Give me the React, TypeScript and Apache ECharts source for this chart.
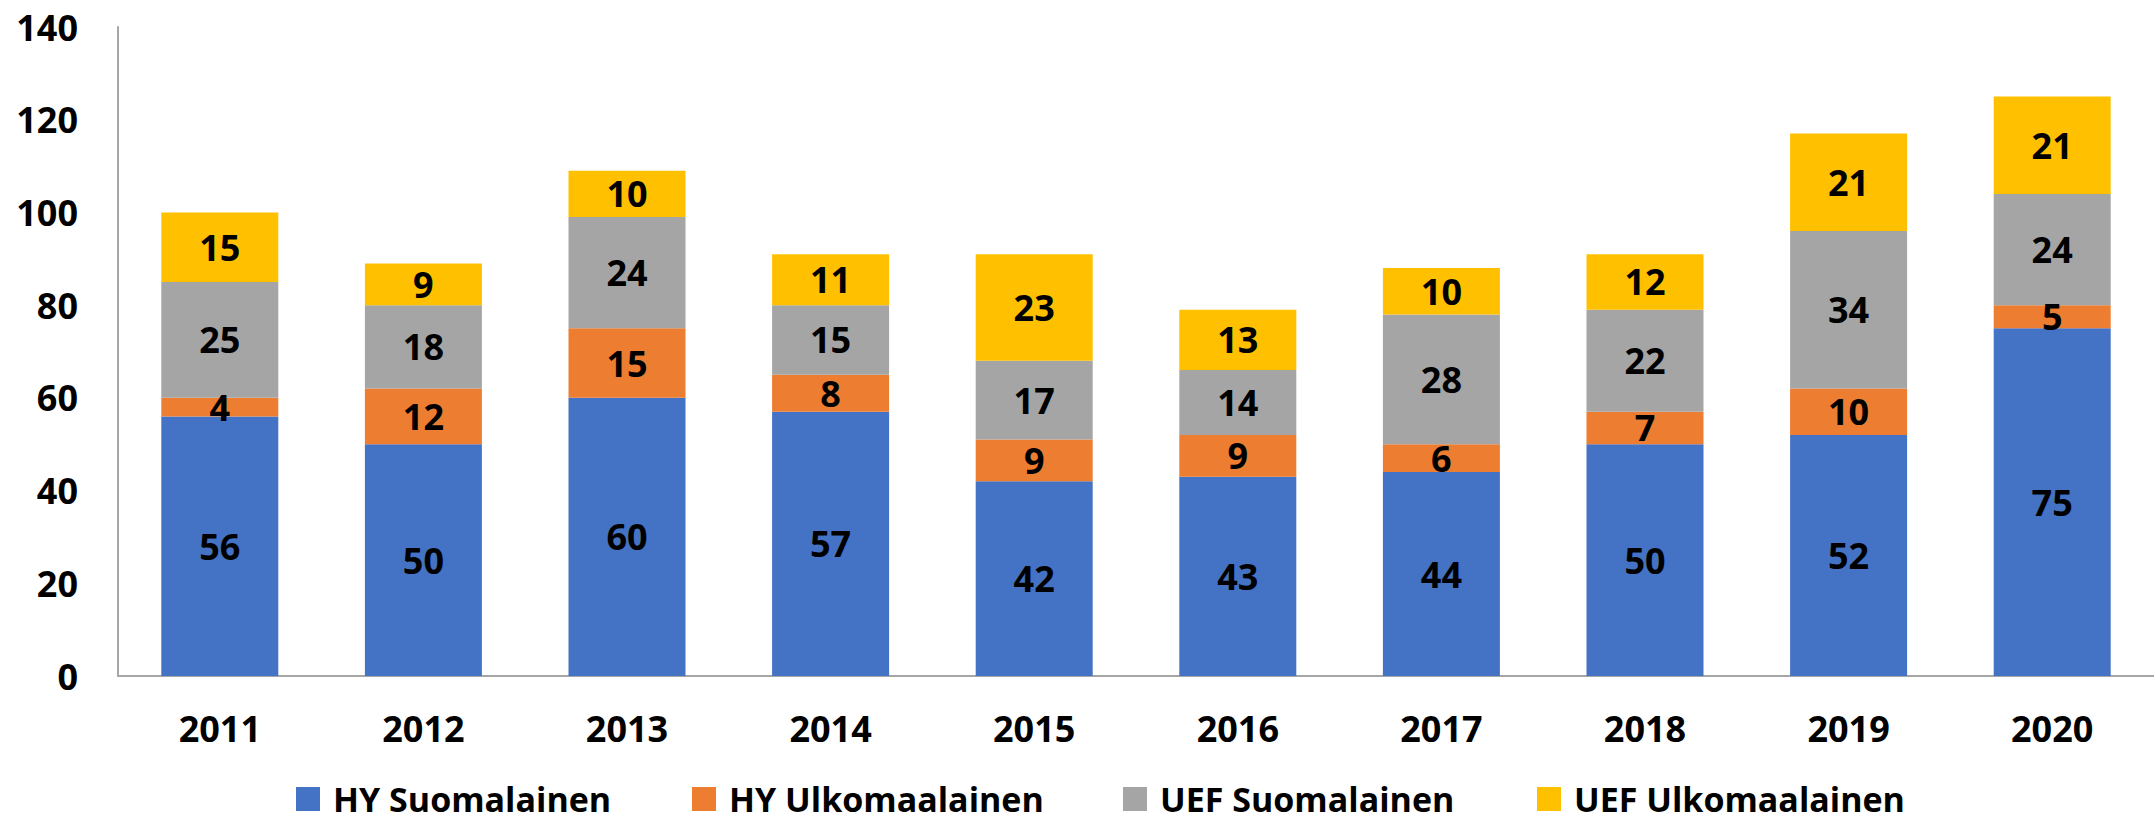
import React, { useEffect, useRef } from "react";
import * as echarts from "echarts";

const years = ["2011", "2012", "2013", "2014", "2015", "2016", "2017", "2018", "2019", "2020"];
const hySuomalainen = [56, 50, 60, 57, 42, 43, 44, 50, 52, 75];
const hyUlkomaalainen = [4, 12, 15, 8, 9, 9, 6, 7, 10, 5];
const uefSuomalainen = [25, 18, 24, 15, 17, 14, 28, 22, 34, 24];
const uefUlkomaalainen = [15, 9, 10, 11, 23, 13, 10, 12, 21, 21];
const seriesNames = ["HY Suomalainen", "HY Ulkomaalainen", "UEF Suomalainen", "UEF Ulkomaalainen"];
const seriesColors = ["#4472C4", "#ED7D31", "#A5A5A5", "#FFC000"];
const yTicks = [0, 20, 40, 60, 80, 100, 120, 140];

const FONT = "'Open Sans', 'Noto Sans', sans-serif";

export default function App() {
  const ref = useRef<HTMLDivElement>(null);
  useEffect(() => {
    if (!ref.current) return;
    const chart = echarts.init(ref.current, null, { renderer: "svg" });
    const values = [hySuomalainen, hyUlkomaalainen, uefSuomalainen, uefUlkomaalainen];
    const legendLefts = [296, 692, 1123, 1537];
    chart.setOption({
      animation: false,
      backgroundColor: "#ffffff",
      grid: { left: 118, right: -21, top: 27, bottom: 145, containLabel: false },
      legend: seriesNames.map((n, i) => ({
        data: [n],
        left: legendLefts[i],
        top: 779,
        width: 420,
        padding: 0,
        itemWidth: 24,
        itemHeight: 24,
        itemGap: 10,
        icon: "rect",
        textStyle: {
          fontFamily: FONT,
          fontWeight: "bold",
          fontSize: 34,
          lineHeight: 40,
          color: "#000",
          padding: [0, 0, 0, 8],
        },
      })),
      xAxis: {
        type: "category",
        data: years,
        axisLine: { show: true, lineStyle: { color: "#A6A6A6", width: 2 } },
        axisTick: { show: false },
        axisLabel: { fontFamily: FONT, fontWeight: "bold", fontSize: 36, color: "#000", margin: 34 },
      },
      yAxis: {
        type: "value",
        min: yTicks[0],
        max: yTicks[yTicks.length - 1],
        interval: 20,
        splitLine: { show: false },
        axisLine: { show: true, lineStyle: { color: "#A6A6A6", width: 2 } },
        axisTick: { show: false },
        axisLabel: { fontFamily: FONT, fontWeight: "bold", fontSize: 36, color: "#000", margin: 40 },
      },
      series: seriesNames.map((n, i) => ({
        name: n,
        type: "bar",
        stack: "total",
        barWidth: 117,
        data: values[i],
        itemStyle: { color: seriesColors[i] },
        label: {
          show: true,
          position: "inside",
          fontFamily: FONT,
          fontWeight: "bold",
          fontSize: 36,
          color: "#000",
        },
      })),
    });
    return () => chart.dispose();
  }, []);
  return (
    <div
      ref={ref}
      style={{ position: "fixed", left: 0, top: 0, width: 2154, height: 821 }}
    />
  );
}
